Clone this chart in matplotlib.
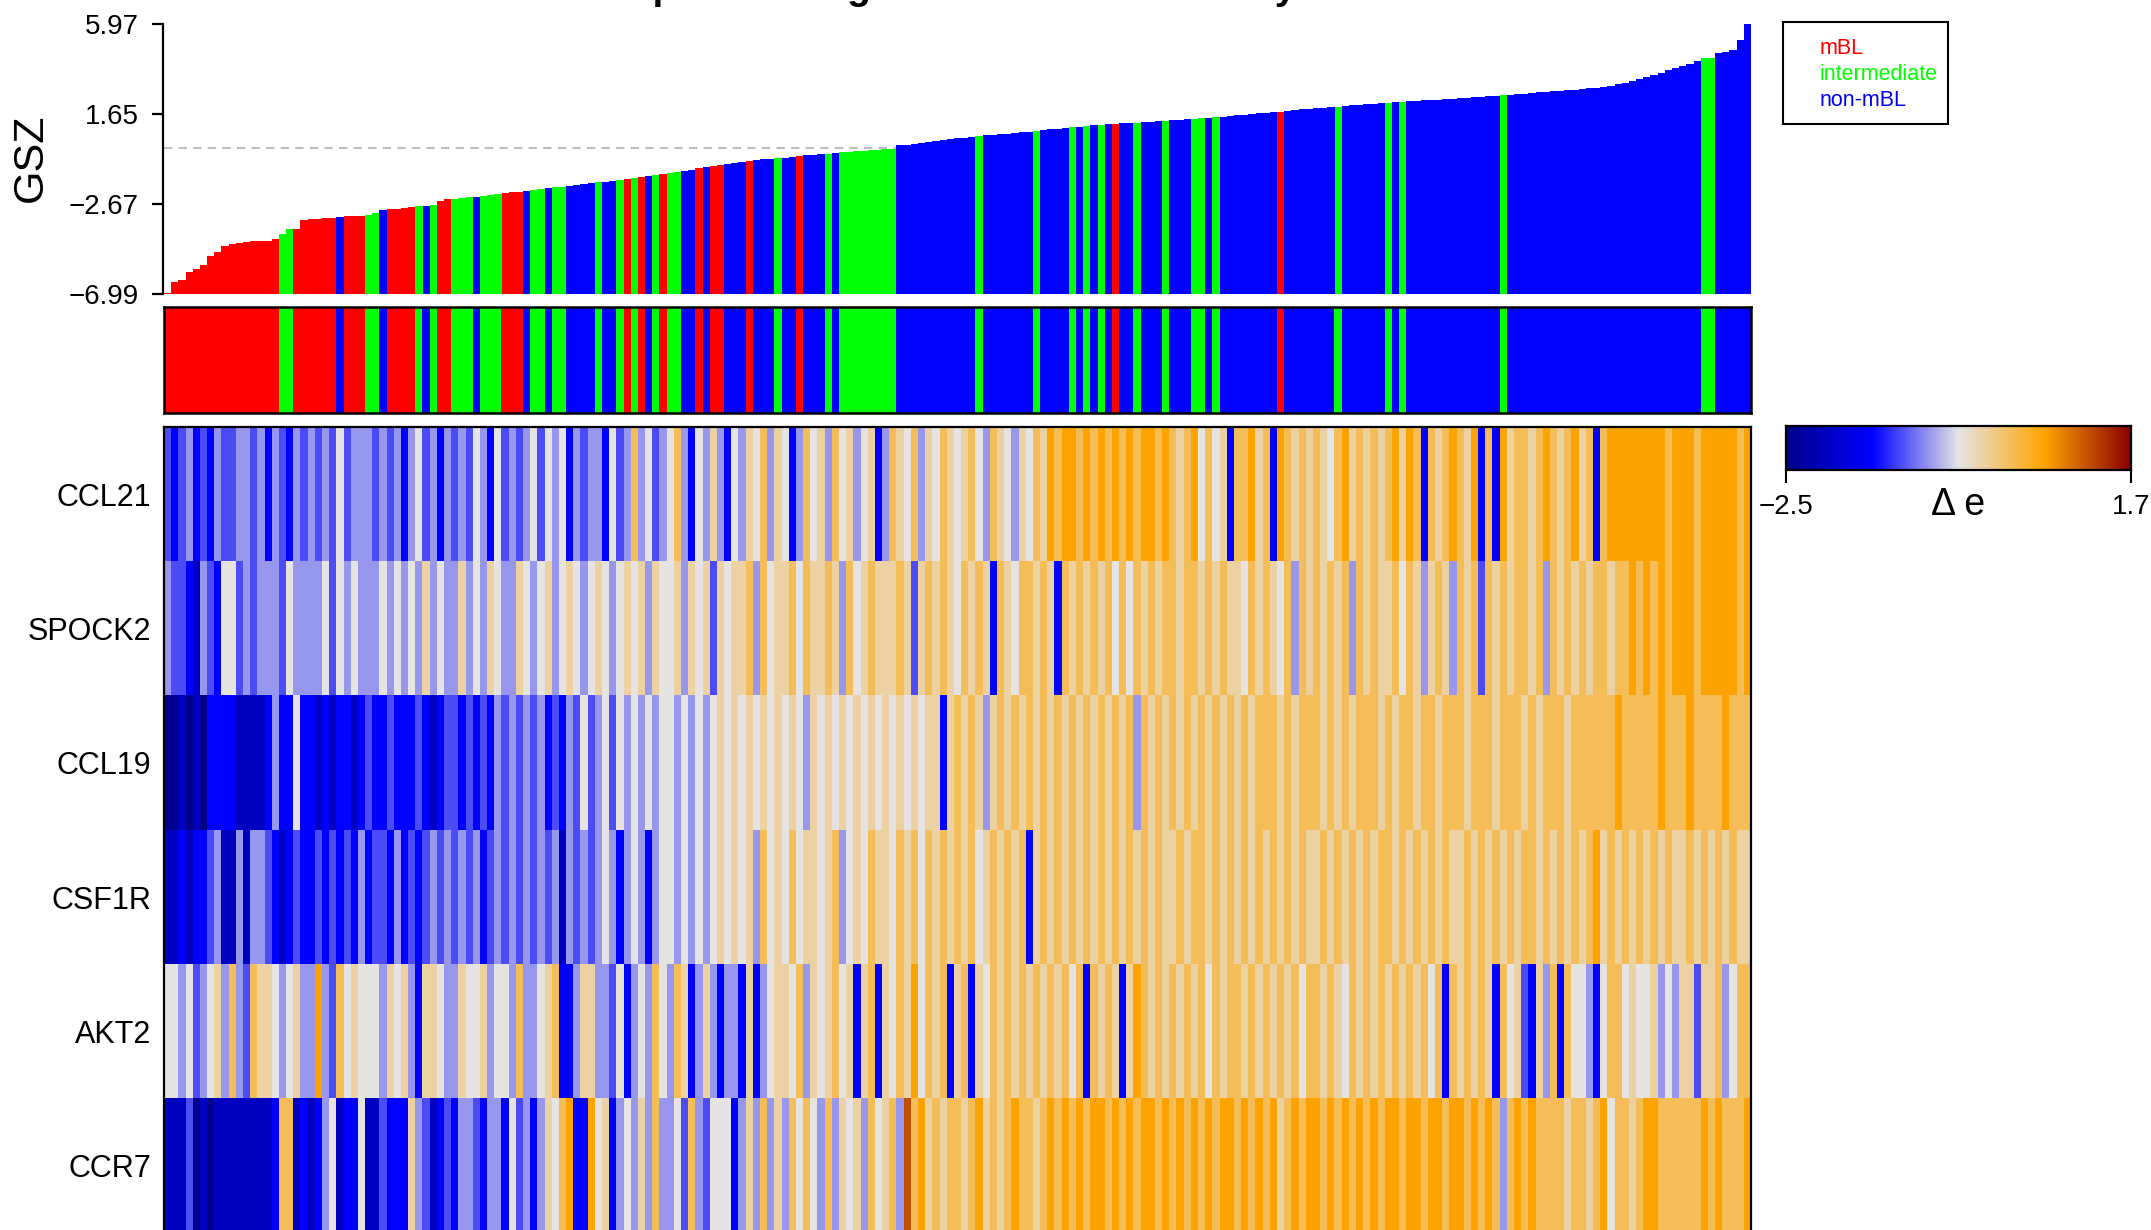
import numpy as np
import matplotlib.pyplot as plt
from matplotlib.colors import LinearSegmentedColormap, ListedColormap
from matplotlib.patches import Rectangle

plt.rcParams['font.family'] = ['Liberation Sans', 'DejaVu Sans']

# ---- data ----
genes = ["CCL21", "SPOCK2", "CCL19", "CSF1R", "AKT2", "CCR7"]
classes = ["mBL", "intermediate", "non-mBL"]
class_colors = ["#FF0000", "#00FF00", "#0000FF"]

# one letter per sample, ordered by GSZ: r = mBL, g = intermediate, b = non-mBL
sample_class = ("rrrrrrrrrrrrrrrr" "gg" "rrrrrr" "b" "rrr" "gg" "b" "rrrr" "g" "b" "g" "rr"
                "ggg" "b" "ggg" "rrr" "b" "gg" "b" "gg" "bbbb" "g" "bb" "g" "r" "g" "r" "b"
                "g" "r" "gg" "bb" "r" "b" "rr" "bbb" "r" "bbb" "g" "bb" "r" "bbb" "g" "b"
                "gggggggg" "bbbbbbbbbbb" "g" "bbbbbbb" "g" "bbbb" "g" "b" "g" "b" "g" "b"
                "r" "bb" "g" "bbb" "g" "bbb" "gg" "b" "g" "bbbbbbbb" "r" "bbbbbbb" "g"
                "bbbbbb" "g" "b" "g" "bbbbbbbbbbbbb" "g" "bbbbbbbbbbbbbbbbbbbbbbbbbbb"
                "gg" "bbbbb")

gsz = [-6.95, -6.41, -6.32, -5.93, -5.78, -5.60, -5.17, -4.97, -4.69, -4.60,
       -4.54, -4.49, -4.46, -4.44, -4.43, -4.33, -4.11, -3.87, -3.87, -3.44,
       -3.41, -3.39, -3.36, -3.33, -3.29, -3.26, -3.25, -3.24, -3.18, -3.12,
       -2.95, -2.93, -2.90, -2.85, -2.82, -2.78, -2.77, -2.72, -2.52, -2.45,
       -2.42, -2.38, -2.35, -2.31, -2.27, -2.24, -2.20, -2.15, -2.11, -2.07,
       -2.03, -1.99, -1.95, -1.91, -1.87, -1.83, -1.80, -1.76, -1.71, -1.67,
       -1.63, -1.59, -1.55, -1.50, -1.46, -1.41, -1.36, -1.31, -1.26, -1.21,
       -1.17, -1.12, -1.07, -1.02, -0.96, -0.91, -0.85, -0.79, -0.74, -0.69,
       -0.64, -0.60, -0.56, -0.53, -0.50, -0.47, -0.44, -0.40, -0.37, -0.34,
       -0.31, -0.28, -0.25, -0.22, -0.19, -0.16, -0.13, -0.11, -0.09, -0.07,
       -0.05, -0.02, 0.14, 0.18, 0.22, 0.27, 0.31, 0.35, 0.39, 0.44,
       0.48, 0.51, 0.55, 0.58, 0.62, 0.65, 0.68, 0.71, 0.75, 0.78,
       0.81, 0.85, 0.88, 0.91, 0.94, 0.98, 1.01, 1.05, 1.08, 1.11,
       1.14, 1.16, 1.18, 1.20, 1.22, 1.24, 1.26, 1.28, 1.30, 1.32,
       1.34, 1.37, 1.40, 1.42, 1.45, 1.48, 1.50, 1.53, 1.56, 1.58,
       1.61, 1.64, 1.68, 1.71, 1.74, 1.77, 1.81, 1.84, 1.87, 1.90,
       1.94, 1.96, 1.99, 2.01, 2.04, 2.07, 2.09, 2.12, 2.15, 2.17,
       2.20, 2.22, 2.24, 2.26, 2.28, 2.30, 2.32, 2.34, 2.36, 2.38,
       2.40, 2.43, 2.45, 2.48, 2.51, 2.53, 2.56, 2.58, 2.61, 2.63,
       2.66, 2.69, 2.71, 2.74, 2.77, 2.80, 2.82, 2.85, 2.88, 2.90,
       2.93, 3.00, 3.08, 3.16, 3.24, 3.33, 3.43, 3.53, 3.63, 3.74,
       3.85, 3.96, 4.07, 4.19, 4.33, 4.35, 4.56, 4.61, 4.72, 5.20, 5.97]

# expression read as colour levels per sample, 0 (darkest blue) .. 9 (dark orange)
level_values = [-2.5, -2.0, -1.45, -1.1, -0.75, -0.4, -0.1, 0.25, 0.65, 1.2]
expr_levels = {
    "CCL21": "3234232433" "4434243243" "4343534443" "4342453424" "3435425343"
             "4535452434" "4253474534" "5742546425" "4657465247" "5647564562"
             "4765746576" "5675476546" "5768788787" "8787878878" "7678575627"
             "7867287676" "7657867676" "7868727678" "7682728677" "6787678672"
             "7888888887" "88878888878",
    "SPOCK2": "4332143255" "3434443544" "4453545444" "5454546454" "4645465446"
              "5456456545" "6545656465" "5646563656" "6747566757" "6676475676"
              "6676367676" "5767627657" "7676276767" "6757576767" "7677676766"
              "5767657476" "7676747676" "6757646764" "7673767677" "6747676767"
              "7677878787" "88878888878",
    "CCL19": "0010102222" "1111242252" "2121221232" "2322232123" "3232324343"
             "4342324353" "4535454545" "5454545656" "5656565654" "6565656565"
             "6565656626" "7676467676" "7676767676" "7676747676" "7676767676"
             "7677767677" "7676767776" "7677677677" "7677767776" "7677767777"
             "7787777787" "77877778777",
    "CSF1R": "1121223411" "4144321232" "2323232423" "3242323434" "3434234343"
             "4343414343" "4542454245" "5454545656" "5647565756" "6567456576"
             "6576757676" "7675676767" "2676767676" "7676767676" "6767767676"
             "7676767676" "6767676767" "7676767676" "6767676767" "7676767678"
             "6767676767" "66767676766",
    "AKT2": "5545345647" "4376654564" "4843756555" "4656426654" "4655645547"
            "4456722466" "4435245475" "4762464244" "2624566574" "6567562672"
            "6576857672" "6726576767" "6767675727" "6762687676" "7676757677"
            "6767676757" "7676576767" "6767675727" "6767627563" "2647275542"
            "5775655645" "46636674577",
    "CCR7": "1113010111" "1111127712" "1245122511" "3222643123" "2443244253"
            "4246578228" "5624546474" "4537435552" "4647464757" "5474656475"
            "6749786767" "7678676787" "7678787878" "8787878878" "7878787887"
            "8787867878" "8787878787" "8878878878" "8787874787" "8777767767"
            "8577678877" "77778787778",
}

title = "Heatmap of leading CCL21 chemokines by class"

# ---- figure ----
W, H = 2151, 1230
fig = plt.figure(figsize=(W / 100, H / 100), dpi=100)


def px_axes(x0, y0, x1, y1):
    return fig.add_axes([x0 / W, 1 - y1 / H, (x1 - x0) / W, (y1 - y0) / H])


n = len(gsz)
cls_idx = np.array(["rgb".index(c) for c in sample_class[:n]])
bar_cols = [class_colors[i] for i in cls_idx]
expr = np.array([[level_values[int(ch)] for ch in expr_levels[g][:n]] for g in genes])

de_cmap = LinearSegmentedColormap.from_list(
    "de", ["#00008B", "#0000FF", "#E5E5E5", "#FFA500", "#8B0000"])

# GSZ bars
ax = px_axes(164, 24, 1751, 294)
ax.bar(np.arange(n), np.array(gsz) + 6.99, bottom=-6.99, width=1.0, align="edge",
       color=bar_cols, linewidth=0)
ax.axhline(0, color="#BEBEBE", ls=(0, (4, 3)), lw=1.5, zorder=0)
ax.set_xlim(0, n)
ax.set_ylim(-6.99, 5.97)
for s in ["top", "right", "bottom"]:
    ax.spines[s].set_visible(False)
ax.spines["left"].set_linewidth(1.6)
ax.spines["left"].set_position(("outward", 1))
ax.set_xticks([])
ax.set_yticks([5.97, 1.65, -2.67, -6.99])
ax.set_yticklabels(["5.97", "1.65", "\u22122.67", "\u22126.99"], fontsize=20)
ax.tick_params(axis="y", length=8, width=1.6, pad=9)
fig.text(31 / W, 1 - 158 / H, "GSZ", rotation=90, ha="center", va="center", fontsize=31)

# class strip
ax2 = px_axes(164, 307, 1751, 413)
ax2.imshow(cls_idx[None, :], cmap=ListedColormap(class_colors), vmin=0, vmax=2,
           aspect="auto", interpolation="nearest", extent=(0, n, 0, 1))
ax2.set_xticks([])
ax2.set_yticks([])
for s in ax2.spines.values():
    s.set_linewidth(1.8)

# heatmap
ax3 = px_axes(164, 427, 1751, 1233)
ax3.imshow(expr, cmap=de_cmap, vmin=-2.5, vmax=1.7, aspect="auto",
           interpolation="nearest", extent=(0, n, len(genes), 0))
ax3.set_xticks([])
ax3.set_yticks(np.arange(len(genes)) + 0.5)
ax3.set_yticklabels(genes, fontsize=22)
ax3.tick_params(axis="y", length=0, pad=9)
for s in ax3.spines.values():
    s.set_linewidth(1.6)

# colour key
ax4 = px_axes(1786, 426, 2131, 470)
ax4.imshow(np.linspace(-2.5, 1.7, 400)[None, :], cmap=de_cmap, vmin=-2.5, vmax=1.7,
           aspect="auto", extent=(-2.5, 1.7, 0, 1))
ax4.set_yticks([])
ax4.set_xticks([-2.5, 1.7])
ax4.set_xticklabels(["\u22122.5", "1.7"], fontsize=20)
ax4.tick_params(axis="x", length=9.5, width=1.5, pad=8)
for s in ax4.spines.values():
    s.set_linewidth(1.6)
fig.text(1958 / W, 1 - 505 / H, "\u0394 e", ha="center", va="center", fontsize=27)

# legend
fig.patches.append(Rectangle((1783 / W, 1 - 124 / H), (1948 - 1783) / W, (124 - 22) / H,
                             transform=fig.transFigure, fill=False, edgecolor="black",
                             linewidth=1.5))
for i, (name, col) in enumerate(zip(classes, class_colors)):
    fig.text(1820 / W, 1 - (49 + 25.5 * i) / H, name, color=col, fontsize=15.5,
             ha="left", va="center")

# title, mostly outside the top edge
fig.text(958 / W, 1 + 1 / H, title, ha="center", va="baseline", fontsize=28,
         weight="bold")

fig.savefig("out.png", dpi=100)
